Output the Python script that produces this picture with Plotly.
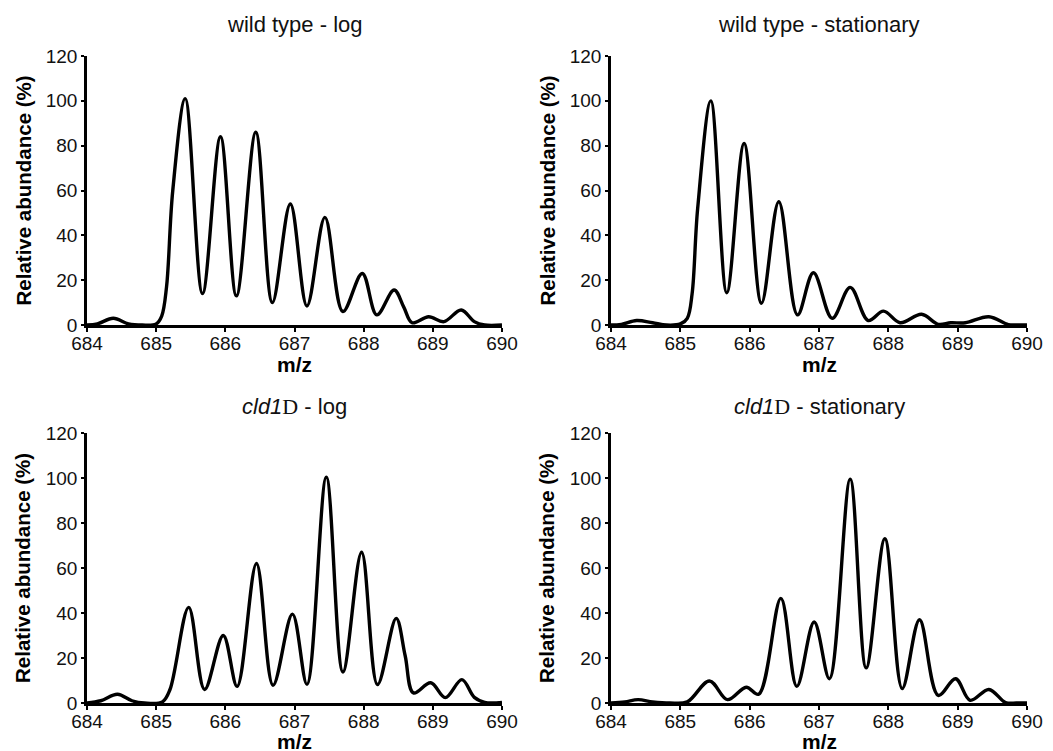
import plotly.graph_objects as go

# ---- data (m/z, relative abundance %) ----
wt_log_mz = [684.0, 684.15, 684.38, 684.6, 684.8, 685.0, 685.08, 685.15, 685.24,
             685.42, 685.67, 685.93, 686.16, 686.44, 686.68, 686.94, 687.18,
             687.44, 687.70, 687.98, 688.19, 688.44, 688.58, 688.70, 688.94, 689.16, 689.41,
             689.6, 689.75, 690.0]
wt_log_ab = [0, 0.5, 3, 0.5, 0, 0.5, 4, 17, 60,
             101, 14, 84, 13, 86, 10, 54, 8.5,
             48, 6, 23, 4.5, 15.6, 8, 1, 3.7, 1.5, 6.7,
             1.5, 0, 0]

wt_sta_mz = [684.0, 684.15, 684.37, 684.6, 684.8, 685.0, 685.1, 685.17, 685.25,
             685.44, 685.67, 685.92, 686.17, 686.42, 686.69, 686.92, 687.19,
             687.45, 687.71, 687.93, 688.17, 688.48, 688.72, 688.9, 689.11, 689.45, 689.73,
             689.85, 690.0]
wt_sta_ab = [0, 0.3, 2, 1, 0, 0.5, 3, 14, 52,
             100, 14.4, 81, 9.7, 55, 4.5, 23.3, 3,
             16.8, 2, 6.2, 1, 4.8, 0.3, 1, 1, 3.7, 0.2,
             0, 0]

cld_log_mz = [684.0, 684.2, 684.44, 684.65, 684.83, 685.09, 685.2, 685.47, 685.70,
              685.97, 686.17, 686.45, 686.69, 686.97, 687.18, 687.46, 687.70, 687.97, 688.20,
              688.47, 688.6, 688.72, 688.97, 689.18, 689.42, 689.6, 689.75, 690.0]
cld_log_ab = [0, 1, 3.9, 1, 0, 0.5, 6, 42.5, 6,
              30, 7.4, 62, 7.9, 39.5, 8.3, 100.4, 13.8, 67, 8.2,
              37.6, 21, 4.5, 9, 2.4, 10.4, 2.5, 0.3, 0.3]

cld_sta_mz = [684.0, 684.2, 684.39, 684.6, 684.85, 685.1, 685.42, 685.68, 685.95, 686.13,
              686.45, 686.68, 686.93, 687.15, 687.45, 687.68, 687.95, 688.20, 688.45, 688.72,
              688.97, 689.18, 689.45, 689.69, 689.85, 690.0]
cld_sta_ab = [0, 0.5, 1.5, 0.5, 0, 0.5, 9.8, 1.5, 7, 3.9,
              46.5, 7.4, 36, 10.8, 99.5, 15.6, 73, 6.4, 37, 3.4,
              10.8, 1.2, 6, 0.2, 0, 0]

titles = ["wild type - log", "wild type - stationary",
          "<i>cld1</i><span style=\"font-family:'Liberation Serif'\">D</span> - log",
          "<i>cld1</i><span style=\"font-family:'Liberation Serif'\">D</span> - stationary"]
x_ticks = [684, 685, 686, 687, 688, 689, 690]
y_ticks = [0, 20, 40, 60, 80, 100, 120]
x_label = "<b>m/z</b>"
y_label = "<b>Relative abundance (%)</b>"

series = [(wt_log_mz, wt_log_ab), (wt_sta_mz, wt_sta_ab),
          (cld_log_mz, cld_log_ab), (cld_sta_mz, cld_sta_ab)]

W, H = 1053, 751
OFF = 8  # default page (body) margin in the browser
# pixel boxes of plot areas in screen pixels: (left, right, top, bottom)
boxes = [(87, 502, 56, 325), (611, 1027, 56, 325),
         (87, 502, 433, 703), (611, 1027, 433, 703)]
title_y = [24, 24, 407, 407]
xlab_y = [364, 364, 741, 741]


def px(x):
    return (x - OFF) / W


def py(y):
    return (H - (y - OFF)) / H


fig = go.Figure()
FONT = "Liberation Sans, Arial, sans-serif"

for i, ((mz, ab), (l, r, t, b)) in enumerate(zip(series, boxes)):
    n = "" if i == 0 else str(i + 1)
    fig.add_trace(go.Scatter(x=mz, y=ab, mode="lines",
                             line=dict(color="black", width=3.4, shape="spline", smoothing=1.0),
                             xaxis="x" + n, yaxis="y" + n, showlegend=False, hoverinfo="skip"))
    common = dict(showgrid=False, zeroline=False, showline=True, linecolor="black",
                  linewidth=2.6, ticks="outside", tickwidth=2, tickcolor="black",
                  automargin=False,
                  tickfont=dict(family=FONT, size=19, color="#111"))
    fig.update_layout(**{
        "xaxis" + n: dict(domain=[px(l), px(r)], anchor="y" + n, range=[684, 690],
                          tickvals=x_ticks, ticklen=4, ticklabelstandoff=-5, **common),
        "yaxis" + n: dict(domain=[py(b), py(t)], anchor="x" + n, range=[0, 120],
                          tickvals=y_ticks, ticklen=3, **common),
    })
    fig.add_annotation(x=px((l + r) / 2), y=py(title_y[i]), xref="paper", yref="paper",
                       text=titles[i], showarrow=False, xanchor="center", yanchor="middle",
                       font=dict(family=FONT, size=22, color="#111"))
    fig.add_annotation(x=px((l + r) / 2), y=py(xlab_y[i]), xref="paper", yref="paper",
                       text=x_label, showarrow=False, xanchor="center", yanchor="middle",
                       font=dict(family=FONT, size=21, color="black"))
    fig.add_annotation(x=px(l - 64), y=py((t + b) / 2), xref="paper", yref="paper",
                       text=y_label, showarrow=False, xanchor="center", yanchor="middle",
                       textangle=-90, font=dict(family=FONT, size=20.5, color="black"))

fig.update_layout(width=W, height=H, margin=dict(l=0, r=0, t=0, b=0),
                  paper_bgcolor="white", plot_bgcolor="white")
fig.write_html("out.html")
